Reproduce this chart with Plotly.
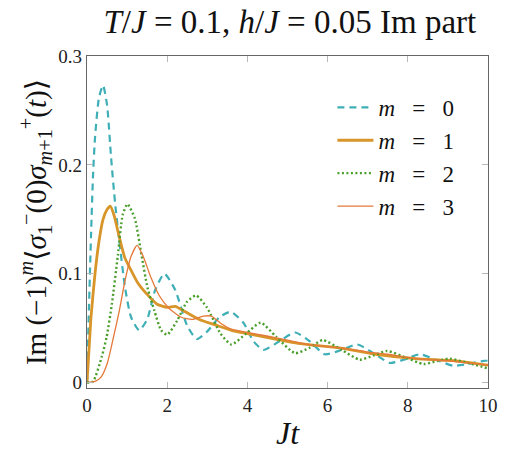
import plotly.graph_objects as go

# ---- data ----
t_m0 = [0, 0.05, 0.1, 0.15, 0.2, 0.3, 0.4, 0.5, 0.6, 0.7, 0.8, 0.95, 1.1, 1.3, 1.5, 1.7, 1.93, 2.2, 2.5, 2.74,
        3.0, 3.3, 3.58, 3.9, 4.15, 4.4, 4.8, 5.19, 5.55, 5.93, 6.35, 6.74, 7.15, 7.55, 7.9, 8.3, 8.7, 9.13,
        9.5, 9.9, 10]
v_m0 = [0, 0.07, 0.135, 0.19, 0.225, 0.262, 0.273, 0.255, 0.207, 0.165, 0.132, 0.087, 0.06, 0.048, 0.058,
        0.085, 0.100, 0.085, 0.052, 0.040, 0.047, 0.060, 0.065, 0.055, 0.038, 0.030, 0.038, 0.046, 0.038,
        0.026, 0.030, 0.035, 0.027, 0.018, 0.021, 0.026, 0.021, 0.0155, 0.017, 0.020, 0.020]

t_m1 = [0, 0.05, 0.1, 0.2, 0.3, 0.4, 0.5, 0.58, 0.68, 0.77, 0.94, 1.1, 1.26, 1.5, 1.75, 2.0, 2.2, 2.45,
        2.8, 3.2, 3.6, 4.0, 4.7, 5.26, 6.25, 7.2, 8.2, 9.2, 10]
v_m1 = [0, 0.03, 0.06, 0.1, 0.13, 0.15, 0.159, 0.162, 0.153, 0.139, 0.115, 0.103, 0.092, 0.081, 0.072,
        0.069, 0.070, 0.065, 0.058, 0.053, 0.048, 0.045, 0.040, 0.036, 0.032, 0.026, 0.022, 0.020, 0.016]

t_m2 = [0, 0.15, 0.37, 0.49, 0.62, 0.77, 0.89, 1.01, 1.19, 1.36, 1.51, 1.68, 1.85, 2.0, 2.25, 2.49, 2.72,
        2.99, 3.33, 3.6, 3.97, 4.33, 4.72, 5.19, 5.55, 5.88, 6.35, 6.8, 7.15, 7.48, 7.95, 8.4, 8.75, 9.04,
        9.5, 10]
v_m2 = [0, 0.001, 0.024, 0.042, 0.072, 0.117, 0.154, 0.164, 0.151, 0.117, 0.087, 0.066, 0.048, 0.044,
        0.057, 0.074, 0.080, 0.069, 0.045, 0.035, 0.045, 0.055, 0.042, 0.027, 0.032, 0.039, 0.030, 0.021,
        0.025, 0.029, 0.023, 0.017, 0.020, 0.022, 0.018, 0.013]

t_m3 = [0, 0.2, 0.35, 0.5, 0.65, 0.8, 0.95, 1.1, 1.25, 1.4, 1.6, 1.8, 2.05, 2.35, 2.62, 2.9, 3.1, 3.35,
        3.6, 4.0, 4.45, 5.0, 5.5, 6.0, 6.5, 7.0, 7.5, 8.0, 8.5, 9.0, 9.5, 10]
v_m3 = [0, 0.001, 0.005, 0.017, 0.04, 0.065, 0.094, 0.116, 0.126, 0.116, 0.096, 0.080, 0.068, 0.060,
        0.058, 0.061, 0.061, 0.054, 0.049, 0.046, 0.043, 0.039, 0.035, 0.033, 0.031, 0.028, 0.026, 0.023,
        0.021, 0.020, 0.018, 0.016]

x_ticks = [0, 2, 4, 6, 8, 10]
y_ticks = [0, 0.1, 0.2, 0.3]
y_tick_text = ["0", "0.1", "0.2", "0.3"]
legend_names = ["<i>m</i>   =   0", "<i>m</i>   =   1", "<i>m</i>   =   2", "<i>m</i>   =   3"]

FONT = "'Liberation Serif', 'Times New Roman', 'DejaVu Serif', serif"

fig = go.Figure()
fig.add_trace(go.Scatter(x=t_m0, y=v_m0, mode="lines", name=legend_names[0],
                         line=dict(color="#3eafb6", width=2.2, dash="7px,5px", shape="spline", smoothing=0.6)))
fig.add_trace(go.Scatter(x=t_m1, y=v_m1, mode="lines", name=legend_names[1],
                         line=dict(color="#d8952a", width=2.8, shape="spline", smoothing=0.6)))
fig.add_trace(go.Scatter(x=t_m2, y=v_m2, mode="lines", name=legend_names[2],
                         line=dict(color="#4a9f2c", width=2.4, dash="2px,2.5px", shape="spline", smoothing=0.6)))
fig.add_trace(go.Scatter(x=t_m3, y=v_m3, mode="lines", name=legend_names[3],
                         line=dict(color="#e5793a", width=1.3, shape="spline", smoothing=0.6)))

axis_common = dict(showgrid=False, zeroline=False, showline=True, linecolor="#666666", linewidth=1.3,
                   ticks="inside", ticklen=6, tickcolor="#b8b8b8", tickwidth=1, mirror="allticks",
                   tickfont=dict(family=FONT, size=19, color="#222222"))

fig.update_layout(
    width=510, height=456, autosize=False,
    margin=dict(l=87, r=18, t=56, b=64),
    plot_bgcolor="white", paper_bgcolor="white",
    font=dict(family=FONT),
    title=dict(text="<i>T</i>/<i>J</i> = 0.1, <i>h</i>/<i>J</i> = 0.05 Im part",
               font=dict(family=FONT, size=33, color="#111111"),
               x=0.5683, xanchor="center", y=0.952, yanchor="middle"),
    xaxis=dict(range=[0, 10], tickvals=x_ticks, ticktext=[str(v) for v in x_ticks],
               title=dict(text="<i>Jt</i>", font=dict(family=FONT, size=32, color="#111111"), standoff=6),
               **axis_common),
    yaxis=dict(range=[-0.005, 0.3], tickvals=y_ticks, ticktext=y_tick_text,
               title=dict(text="Im (−1)<sup><i>m</i></sup>⟨<i>σ</i><sub>1</sub><sup>−</sup>(0)<i>σ</i><sub><i>m</i>+1</sub><sup>+</sup>(<i>t</i>)⟩",
                          font=dict(family=FONT, size=29, color="#111111"), standoff=3),
               **axis_common),
    legend=dict(x=0.612, y=0.91, xanchor="left", yanchor="top", bgcolor="rgba(0,0,0,0)",
                font=dict(family=FONT, size=23, color="#111111"), itemwidth=36, tracegroupgap=0),
    showlegend=True,
)

fig.write_html("out.html")
